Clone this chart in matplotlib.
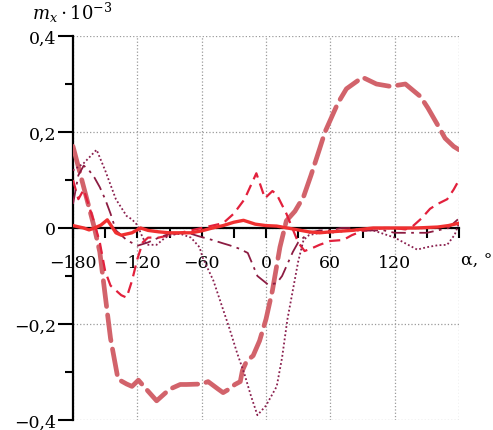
import matplotlib
matplotlib.use("Agg")
import matplotlib.pyplot as plt
from matplotlib.ticker import FixedLocator

plt.rcParams['font.family'] = ['DejaVu Serif']
plt.rcParams['mathtext.fontset'] = 'dejavuserif'

# ---- data (alpha in degrees, m_x * 1e-3) ----
alpha_ld = [-180, -170, -160, -155, -150, -145, -138, -130, -125, -119, -110, -102, -90, -80,
            -74, -60, -54, -45, -40, -34, -29, -24, -22, -18, -12, -6, 0, 6, 13, 19, 27, 35,
            42, 50, 55, 62, 67, 75, 90, 103, 116, 130, 144, 151, 160, 167, 175, 180]
mx_ld = [0.17, 0.085, 0.0, -0.05, -0.14, -0.23, -0.315, -0.325, -0.33, -0.317, -0.34, -0.36,
         -0.336, -0.326, -0.326, -0.325, -0.32, -0.335, -0.343, -0.335, -0.326, -0.32, -0.297,
         -0.277, -0.266, -0.235, -0.19, -0.13, -0.04, 0.015, 0.035, 0.065, 0.11, 0.165, 0.2,
         0.235, 0.26, 0.29, 0.314, 0.30, 0.295, 0.30, 0.274, 0.25, 0.215, 0.187, 0.17, 0.163]

alpha_d = [-180, -175, -170, -165, -160, -155, -150, -145, -140, -135, -130, -125, -120, -115,
           -110, -100, -90, -80, -70, -60, -50, -40, -30, -20, -9, -1, 6, 10, 19, 30, 36, 45,
           50, 60, 72, 80, 90, 100, 110, 120, 130, 137, 145, 153, 160, 169, 175, 180]
mx_d = [0.10, 0.06, 0.08, 0.045, 0.01, -0.03, -0.09, -0.12, -0.13, -0.14, -0.145, -0.11,
        -0.065, -0.03, -0.02, -0.02, -0.015, -0.01, -0.005, 0.0, 0.005, 0.01, 0.03, 0.06,
        0.114, 0.062, 0.077, 0.07, 0.03, -0.03, -0.048, -0.04, -0.035, -0.027, -0.025,
        -0.015, -0.006, -0.003, 0.0, 0.0, -0.003, 0.004, 0.02, 0.04, 0.05, 0.06, 0.08, 0.10]

alpha_dd = [-180, -175, -170, -165, -160, -155, -150, -145, -140, -130, -120, -110, -100, -90,
            -80, -70, -63, -50, -40, -34, -25, -17, -8, 2, 10, 15, 20, 25, 30, 40, 50, 60, 70,
            80, 90, 100, 110, 120, 130, 140, 150, 160, 170, 180]
mx_dd = [0.05, 0.11, 0.13, 0.12, 0.105, 0.085, 0.06, 0.03, -0.005, -0.025, -0.037, -0.03,
         -0.02, -0.012, -0.01, -0.012, -0.017, -0.025, -0.032, -0.036, -0.043, -0.052, -0.10,
         -0.118, -0.115, -0.10, -0.075, -0.05, -0.03, -0.01, -0.005, -0.005, 0.0, 0.0, -0.005,
         -0.005, -0.005, -0.01, -0.01, -0.01, -0.01, -0.005, 0.0, 0.02]

alpha_dt = [-180, -170, -158, -150, -140, -130, -125, -120, -115, -111, -102, -94, -87, -80,
            -70, -62, -59, -49, -40, -34, -27, -20, -14, -8, 0, 10, 15, 20, 25, 30, 35, 40, 50,
            60, 80, 100, 120, 130, 141, 150, 160, 169, 176, 180]
mx_dt = [0.12, 0.135, 0.163, 0.12, 0.06, 0.025, 0.018, 0.006, -0.02, -0.035, -0.035, -0.02,
         -0.014, -0.012, -0.02, -0.04, -0.062, -0.11, -0.17, -0.21, -0.26, -0.305, -0.35,
         -0.39, -0.37, -0.33, -0.27, -0.19, -0.13, -0.07, -0.025, -0.015, -0.01, -0.01,
         -0.005, -0.005, -0.02, -0.032, -0.045, -0.04, -0.036, -0.035, -0.014, 0.01]

alpha_s = [-180, -170, -165, -160, -154, -148, -140, -135, -125, -117, -110, -100, -90, -80,
           -70, -60, -50, -40, -30, -21, -10, 0, 10, 20, 30, 40, 50, 60, 80, 100, 120, 140,
           160, 170, 180]
mx_s = [0.005, 0.0, -0.004, 0.0, 0.006, 0.017, -0.01, -0.015, -0.01, 0.0, -0.005, -0.008,
        -0.01, -0.01, -0.01, -0.006, 0.0, 0.005, 0.012, 0.016, 0.008, 0.005, 0.004, 0.0,
        -0.004, -0.008, -0.01, -0.008, -0.005, 0.0, 0.0, 0.0, 0.002, 0.005, 0.01]

x_major = [-180, -120, -60, 0, 60, 120, 180]
x_minor = [-150, -90, -30, 30, 90, 150]
x_labels = ['\u2212180', '\u2212120', '\u221260', '0', '60', '120', '']
y_major = [-0.4, -0.2, 0.0, 0.2, 0.4]
y_minor = [-0.3, -0.1, 0.1, 0.3]
y_labels = ['\u22120,4', '\u22120,2', '0', '0,2', '0,4']

# ---- figure ----
fig = plt.figure(figsize=(4.93, 4.31), dpi=100)
ax = fig.add_axes([73 / 493, 1 - 421 / 431, (459 - 73) / 493, (421 - 37) / 431])
ax.set_xlim(-180, 180)
ax.set_ylim(-0.4, 0.4)

ax.plot(alpha_ld, mx_ld, color='#d2636b', lw=3.4, dashes=(5.5, 1.8),
        dash_capstyle='round', solid_capstyle='round', zorder=3)
ax.plot(alpha_d, mx_d, color='#e2203c', lw=1.6, dashes=(5, 2.8), zorder=4)
ax.plot(alpha_dd, mx_dd, color='#8c1c42', lw=1.3, dashes=(8, 3, 1.5, 3), zorder=4)
ax.plot(alpha_dt, mx_dt, color='#8a1f4e', lw=1.3, dashes=(1, 1.3), zorder=4)
ax.plot(alpha_s, mx_s, color='#f03030', lw=2.4, zorder=5)

for s in ['top', 'right']:
    ax.spines[s].set_visible(False)
ax.spines['bottom'].set_position(('data', 0))
ax.spines['bottom'].set_linewidth(1.6)
ax.spines['bottom'].set_zorder(2)
ax.spines['left'].set_linewidth(1.6)

ax.xaxis.set_major_locator(FixedLocator(x_major))
ax.xaxis.set_minor_locator(FixedLocator(x_minor))
ax.set_xticklabels(x_labels)
ax.yaxis.set_major_locator(FixedLocator(y_major))
ax.yaxis.set_minor_locator(FixedLocator(y_minor))
ax.set_yticklabels(y_labels)

ax.tick_params(axis='x', which='both', direction='out', length=7, width=1.5,
               labelsize=12.5, pad=11.5)
ax.tick_params(axis='y', which='major', direction='out', length=11, width=1.5,
               labelsize=12.5, pad=1)
ax.tick_params(axis='y', which='minor', direction='out', length=6, width=1.5)

ax.grid(True, which='major', linestyle=':', color='#9a9a9a', lw=0.9, zorder=0)
ax.set_axisbelow(True)

ax.text(182, -0.067, '\u03b1, \u00b0', ha='left', va='center', fontsize=12.5, clip_on=False)
fig.text(32 / 493, 1 - 13 / 431, r'$m_x \cdot 10^{-3}$', ha='left', va='center', fontsize=13)

fig.savefig('out.png', dpi=100)
